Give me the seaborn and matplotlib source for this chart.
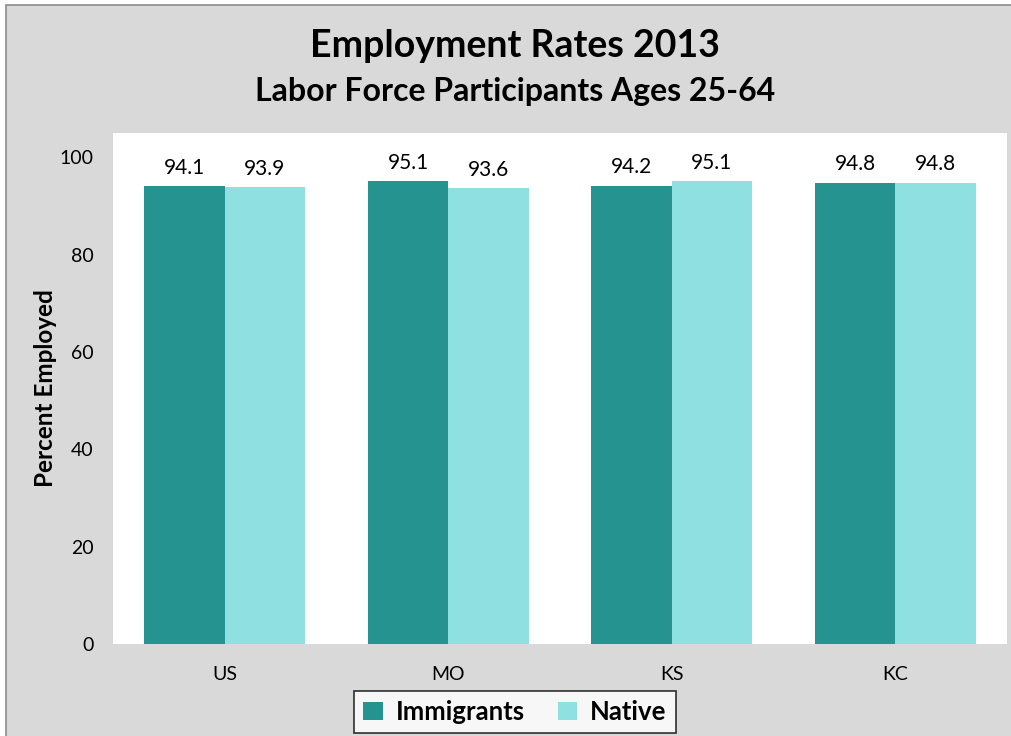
import matplotlib
matplotlib.use("Agg")
import matplotlib.pyplot as plt
from matplotlib.patches import Rectangle
import seaborn as sns
import pandas as pd

regions = ["US", "MO", "KS", "KC"]
immigrants = [94.1, 95.1, 94.2, 94.8]
native = [93.9, 93.6, 95.1, 94.8]
series_names = ["Immigrants", "Native"]
colors = ["#25938f", "#8ee1e0"]
y_ticks = [0, 20, 40, 60, 80, 100]

df = pd.DataFrame({
    "Region": regions * 2,
    "Group": [series_names[0]] * len(regions) + [series_names[1]] * len(regions),
    "Value": immigrants + native,
})

sns.set_theme(style="white")
plt.rcParams["font.family"] = ["Lato", "DejaVu Sans"]
plt.rcParams["text.color"] = "black"
plt.rcParams["xtick.color"] = "black"
plt.rcParams["ytick.color"] = "black"
plt.rcParams["axes.labelcolor"] = "black"

fig = plt.figure(figsize=(10.11, 7.36), dpi=100)
fig.patch.set_facecolor("white")
# grey chart area with thin border
fig.patches.append(Rectangle((6 / 1011, -0.01), 1.0, 1 - 5 / 736 + 0.01,
                             transform=fig.transFigure, facecolor="#d9d9d9",
                             edgecolor="#8c8c8c", linewidth=1.2, zorder=-5))

ax = fig.add_axes([113 / 1011, 1 - 644 / 736, (1007 - 113) / 1011, (644 - 133) / 736])
ax.set_facecolor("white")

sns.barplot(data=df, x="Region", y="Value", hue="Group", palette=colors,
            width=0.72, saturation=1, ax=ax, legend=True, edgecolor="none")

for cont in ax.containers:
    ax.bar_label(cont, fmt="%.1f", padding=6, fontsize=15, color="black")

ax.set_ylim(0, 105)
ax.set_yticks(y_ticks)
ax.tick_params(axis="y", labelsize=14, length=0, pad=14)
ax.tick_params(axis="x", labelsize=14, length=0, pad=16)
ax.set_xlabel("")
ax.set_ylabel("Percent Employed", fontsize=17.5, fontweight="bold", labelpad=2)
for s in ax.spines.values():
    s.set_visible(False)

leg = ax.legend(loc="center", bbox_to_anchor=(515 / 1011, 1 - 712 / 736),
                bbox_transform=fig.transFigure, ncol=2, frameon=True,
                fancybox=False, handlelength=0.75, handleheight=0.75,
                columnspacing=1.3, handletextpad=0.5, borderpad=0.35,
                prop={"size": 18.5, "weight": "bold"})
leg.get_frame().set_edgecolor("black")
leg.get_frame().set_linewidth(1.2)
leg.get_frame().set_facecolor("white")

fig.text(515 / 1011, 1 - 46 / 736, "Employment Rates 2013", ha="center", va="center",
         fontsize=27, fontweight="bold")
fig.text(515 / 1011, 1 - 92 / 736, "Labor Force Participants Ages 25-64", ha="center",
         va="center", fontsize=23, fontweight="bold")

fig.savefig("out.png", dpi=100, facecolor=fig.get_facecolor())
